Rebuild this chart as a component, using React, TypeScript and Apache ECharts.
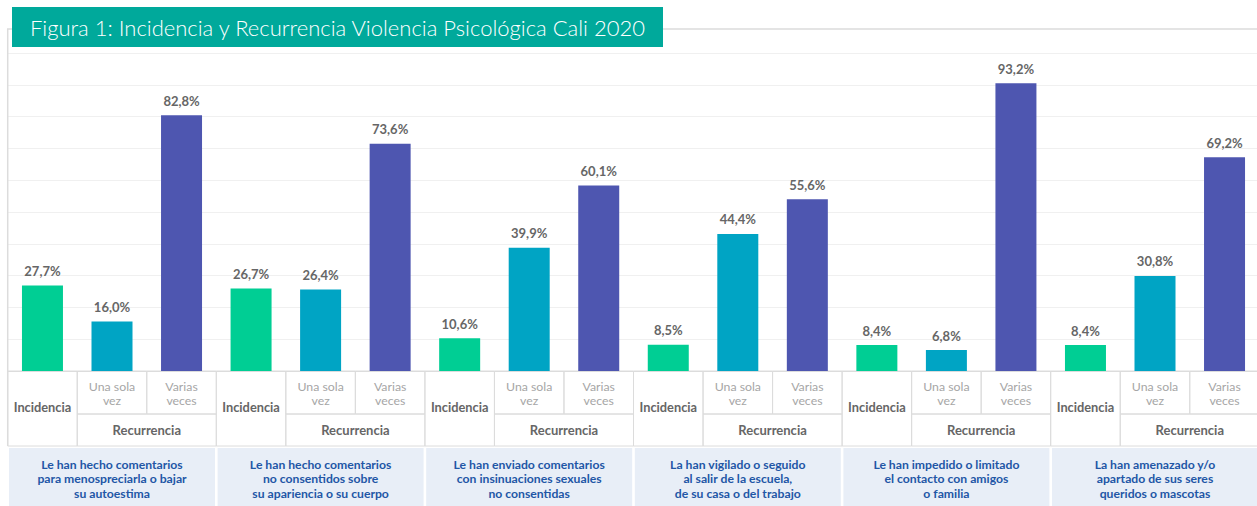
import React, { useEffect, useRef } from 'react';
import * as echarts from 'echarts';

const title = 'Figura 1: Incidencia y Recurrencia Violencia Psicológica Cali 2020';
const subLabels = ['Incidencia', 'Una sola\nvez', 'Varias\nveces'];
const recurrenceLabel = 'Recurrencia';
const groupLabels = [
  'Le han hecho comentarios\npara menospreciarla o bajar\nsu autoestima',
  'Le han hecho comentarios\nno consentidos sobre\nsu apariencia o su cuerpo',
  'Le han enviado comentarios\ncon insinuaciones sexuales\nno consentidas',
  'La han vigilado o seguido\nal salir de la escuela,\nde su casa o del trabajo',
  'Le han impedido o limitado\nel contacto con amigos\no familia',
  'La han amenazado y/o\napartado de sus seres\nqueridos o mascotas',
];
const incidencia = [27.7, 26.7, 10.6, 8.5, 8.4, 8.4];
const unaSolaVez = [16.0, 26.4, 39.9, 44.4, 6.8, 30.8];
const variasVeces = [82.8, 73.6, 60.1, 55.6, 93.2, 69.2];
const seriesColors = ['#00CE94', '#00A4C4', '#4E56B0'];

const FONT = 'Lato, "Noto Sans", sans-serif';
const GRID_LEFT = 7.7;
const GRID_TOP = 53;
const GRID_W = 1251.6;
const GRID_H = 318;
const SUB_W = GRID_W / 18;
const BORDER = '#dcdcdc';

export default function App() {
  const ref = useRef<HTMLDivElement>(null);
  useEffect(() => {
    if (!ref.current) return;
    const chart = echarts.init(ref.current, null, { renderer: 'svg' });
    const sets = [incidencia, unaSolaVez, variasVeces];

    const incStyle = {
      fontWeight: 'bold', color: '#666', fontSize: 12.8, fontFamily: FONT,
      width: SUB_W, height: 46, lineHeight: 14, padding: [29, 0, 0, 0],
      borderColor: BORDER, borderWidth: 1, align: 'center', verticalAlign: 'top',
    };
    const recStyle = {
      fontWeight: 'normal', color: '#a6a6a6', fontSize: 12.3, fontFamily: FONT,
      width: SUB_W, height: 34.5, lineHeight: 14, padding: [8.5, 0, 0, 0],
      borderColor: BORDER, borderWidth: 1, align: 'center', verticalAlign: 'top',
    };

    const categories: any[] = [];
    const barData: any[] = [];
    groupLabels.forEach((_, g) => {
      subLabels.forEach((lab, s) => {
        categories.push({ value: lab, textStyle: s === 0 ? incStyle : recStyle });
        barData.push({ value: sets[s][g], itemStyle: { color: seriesColors[s] } });
      });
    });

    chart.setOption({
      animation: false,
      backgroundColor: '#ffffff',
      grid: {
        left: GRID_LEFT, top: GRID_TOP, width: GRID_W, height: GRID_H,
        containLabel: false, outerBoundsMode: 'none',
      },
      xAxis: [
        {
          type: 'category', data: categories, position: 'bottom',
          axisLine: { show: true, lineStyle: { color: BORDER, width: 1 } },
          axisTick: { show: false },
          axisLabel: { interval: 0, margin: 0 },
          splitLine: { show: false },
        },
        {
          type: 'value', min: 0, max: 18, interval: 1, position: 'bottom',
          axisLine: { show: false }, axisTick: { show: false }, splitLine: { show: false },
          axisLabel: {
            margin: 43, showMinLabel: true, showMaxLabel: true,
            formatter: (v: number) => (Math.round(v) % 3 === 2 ? `{r|${recurrenceLabel}}` : ''),
            rich: {
              r: {
                width: SUB_W * 2, height: 32, lineHeight: 32, align: 'center',
                fontWeight: 'bold', color: '#666', fontSize: 13, fontFamily: FONT,
                borderColor: BORDER, borderWidth: 1,
              },
            },
          },
        },
        {
          type: 'category', data: groupLabels, position: 'bottom',
          axisLine: { show: false }, axisTick: { show: false }, splitLine: { show: false },
          axisLabel: {
            interval: 0, margin: 77,
            backgroundColor: '#E8EEF7', width: 206, height: 49, padding: [9, 0, 0, 0],
            lineHeight: 14.5, color: '#2256A6', fontWeight: 'bold', fontSize: 12.2,
            fontFamily: FONT, align: 'center', verticalAlign: 'top',
          },
        },
      ],
      yAxis: {
        type: 'value', min: 0, max: 103, interval: 10.3,
        axisLabel: { show: false }, axisTick: { show: false }, axisLine: { show: false },
        splitLine: { show: true, lineStyle: { color: '#f0f0f0', width: 1 } },
      },
      series: [
        {
          type: 'bar', xAxisIndex: 0, data: barData, barWidth: 41,
          label: {
            show: true, position: 'top', distance: 8,
            color: '#666', fontWeight: 'bold', fontSize: 13, fontFamily: FONT,
            formatter: (p: any) => p.value.toFixed(1).replace('.', ',') + '%',
          },
        },
      ],
      graphic: [
        { type: 'line', z: 1, shape: { x1: 7, y1: 29, x2: 1257, y2: 29 }, style: { stroke: '#e4e4e4', lineWidth: 2 } },
        { type: 'line', z: 1, shape: { x1: 7.7, y1: 29, x2: 7.7, y2: 446 }, style: { stroke: BORDER, lineWidth: 1.5 } },
        { type: 'rect', z: 10, shape: { x: 12, y: 7, width: 651, height: 40 }, style: { fill: '#00A99B' } },
        {
          type: 'text', z: 11, x: 30, y: 27.5,
          style: { text: title, fill: '#ffffff', fontSize: 22, fontFamily: FONT, fontWeight: 300, verticalAlign: 'middle' },
        },
      ],
    });
    return () => chart.dispose();
  }, []);
  return <div ref={ref} style={{ position: 'absolute', left: 0, top: 0, width: 1257, height: 506 }} />;
}
